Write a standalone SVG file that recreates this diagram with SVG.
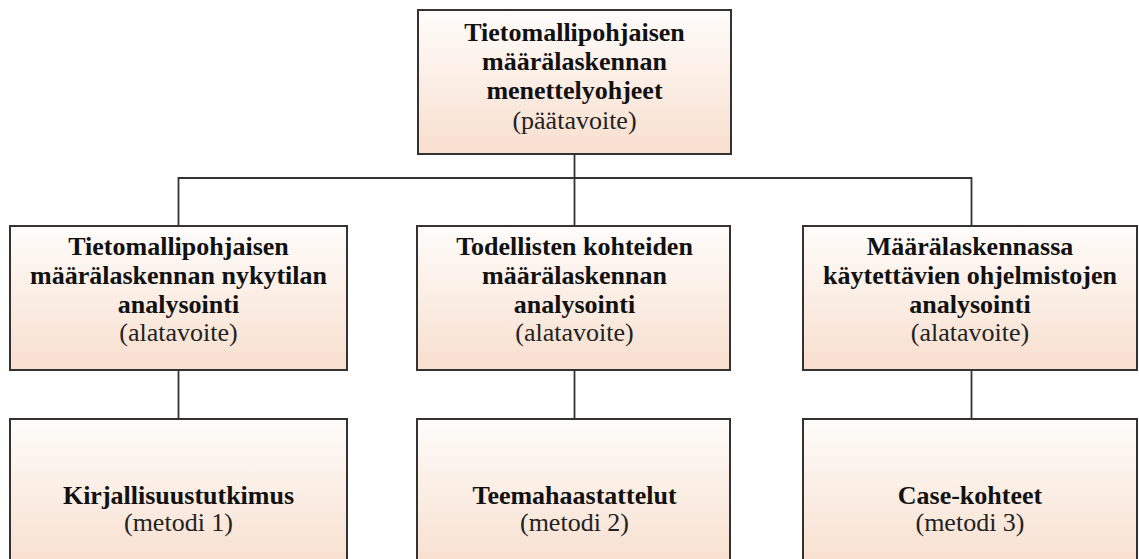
<svg xmlns="http://www.w3.org/2000/svg" width="1139" height="559" viewBox="0 0 1139 559">
<defs>
<linearGradient id="g" x1="0" y1="0" x2="0" y2="1">
<stop offset="0" stop-color="#fefcfa"/>
<stop offset="1" stop-color="#f8dfce"/>
</linearGradient>
<style>
.box{fill:url(#g);stroke:#333;stroke-width:2}
.c{fill:none;stroke:#333;stroke-width:1.8}
text{font-family:'Liberation Serif','Times New Roman',serif;font-size:26px;text-anchor:middle;fill:#222}
.b{font-weight:bold;fill:#111}
</style>
</defs>
<rect width="1139" height="559" fill="#ffffff"/>
<g id="connectors">
<path class="c" d="M574.5 154V178M178.5 226V178H971.5V226M574.5 178V226"/>
<path class="c" d="M178.5 370V419M574.5 370V419M971.5 370V419"/>
</g>
<g id="top">
<rect class="box" x="418" y="10" width="313" height="144"/>
<text x="574.5" y="41" class="b">Tietomallipohjaisen</text>
<text x="574.5" y="70" class="b">määrälaskennan</text>
<text x="574.5" y="99" class="b">menettelyohjeet</text>
<text x="574.5" y="129">(päätavoite)</text>
</g>
<g id="sub1">
<rect class="box" x="10" y="226" width="337" height="144"/>
<text x="178.5" y="255" class="b">Tietomallipohjaisen</text>
<text x="178.5" y="284" class="b">määrälaskennan nykytilan</text>
<text x="178.5" y="313" class="b">analysointi</text>
<text x="178.5" y="341">(alatavoite)</text>
</g>
<g id="sub2">
<rect class="box" x="417" y="226" width="313" height="144"/>
<text x="574.5" y="255" class="b">Todellisten kohteiden</text>
<text x="574.5" y="284" class="b">määrälaskennan</text>
<text x="574.5" y="313" class="b">analysointi</text>
<text x="574.5" y="341">(alatavoite)</text>
</g>
<g id="sub3">
<rect class="box" x="803" y="226" width="334" height="144"/>
<text x="970" y="255" class="b">Määrälaskennassa</text>
<text x="970" y="284" class="b">käytettävien ohjelmistojen</text>
<text x="970" y="313" class="b">analysointi</text>
<text x="970" y="341">(alatavoite)</text>
</g>
<g id="m1">
<rect class="box" x="10" y="419" width="337" height="150"/>
<text x="178.5" y="504" class="b">Kirjallisuustutkimus</text>
<text x="178.5" y="531">(metodi 1)</text>
</g>
<g id="m2">
<rect class="box" x="417" y="419" width="313" height="150"/>
<text x="574.5" y="504" class="b">Teemahaastattelut</text>
<text x="574.5" y="531">(metodi 2)</text>
</g>
<g id="m3">
<rect class="box" x="803" y="419" width="334" height="150"/>
<text x="970" y="504" class="b">Case-kohteet</text>
<text x="970" y="531">(metodi 3)</text>
</g>
</svg>
